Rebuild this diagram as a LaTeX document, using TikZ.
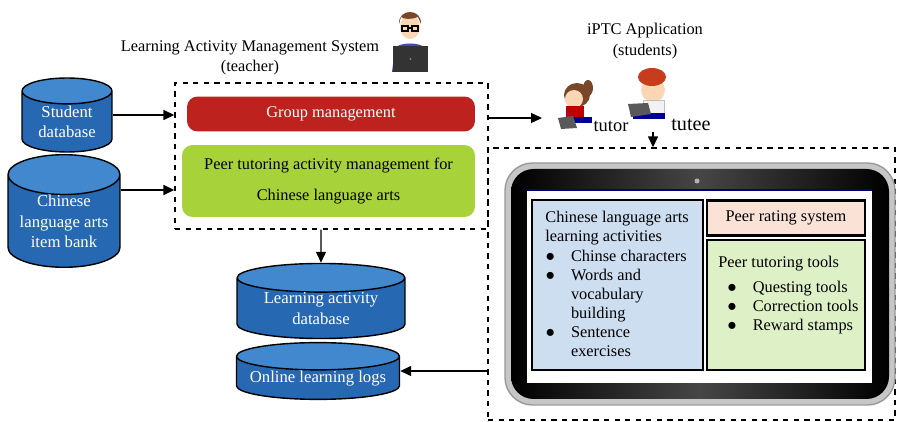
\documentclass[tikz,border=0pt]{standalone}
\usepackage{fontspec}
\setmainfont{Liberation Serif}
\usetikzlibrary{positioning, arrows.meta, shapes.geometric}
\definecolor{dbblue}{RGB}{38,104,178}
\definecolor{dbtop}{RGB}{66,136,206}
\definecolor{grpred}{RGB}{190,34,30}
\definecolor{ptgreen}{RGB}{168,210,58}
\definecolor{actblue}{RGB}{205,222,240}
\definecolor{ratepink}{RGB}{250,226,214}
\definecolor{toolgreen}{RGB}{222,240,198}
\definecolor{skin}{RGB}{250,214,180}
\definecolor{hairbrown}{RGB}{120,70,40}
\definecolor{hairred}{RGB}{200,60,30}

\begin{document}
\begin{tikzpicture}[x=0.02cm, y=-0.02cm,
  txt/.style={font=\fontsize{9.3}{11.5}\selectfont, align=center},
  db/.style={cylinder, shape border rotate=90, draw=black, thick, cylinder uses custom fill,
    cylinder body fill=dbblue, cylinder end fill=dbtop, text=white, align=center,
    font=\fontsize{9.5}{11.5}\selectfont, inner sep=0pt, anchor=shape center},
  dashbox/.style={draw, thick, dashed, inner sep=0pt},
  panel/.style={draw, very thick, inner sep=0pt},
  arr/.style={-{Triangle[length=2.2mm, width=2mm]}, thick}]
  \useasboundingbox (0,0) rectangle (897,422);

  % databases
  \node[db, minimum width=1.8cm, minimum height=1.48cm, aspect=0.45] (stud) at (67,115) {Student\\database};
  \node[db, minimum width=2.24cm, minimum height=2.04cm, aspect=0.45] (bank) at (64,211) {Chinese\\language arts\\item bank};
  \node[db, minimum width=3.36cm, minimum height=1.44cm, aspect=0.25] (actdb) at (321,301) {Learning activity\\database};
  \node[db, minimum width=3.26cm, minimum height=1.06cm, aspect=0.2] (logs) at (318,371) {Online learning logs};

  % teacher side
  \node[txt] (lamstitle) at (250,58) {Learning Activity Management System\\(teacher)};
  \node[dashbox, minimum width=6.26cm, minimum height=2.92cm] (lams) at (331.5,156) {};
  \node[fill=grpred, rounded corners=6pt, minimum width=5.76cm, minimum height=0.7cm, text=white, txt] (grp) at (331,114) {Group management};
  \node[fill=ptgreen, rounded corners=6pt, minimum width=5.86cm, minimum height=1.44cm, txt] (ptam) at (328.5,181)
    {Peer tutoring activity management for\\[6pt]Chinese language arts};

  % teacher icon
  \fill[blue!45!gray] (392,72) -- (395,48) .. controls (400,42) and (420,42) .. (425,48) -- (428,72) -- cycle;
  \fill[skin] (410,27) ellipse (10 and 12);
  \fill[hairbrown] (399,24) .. controls (398,8) and (422,8) .. (421,24) -- (418,17) .. controls (410,20) and (404,19) .. (401,17) -- cycle;
  \draw[thick] (402,26) rectangle (408,31) (412,26) rectangle (418,31) (408,28) -- (412,28);
  \fill[black!80] (393,46) rectangle (428,72);
  \fill[gray] (410.5,59) circle (1.2);

  % students side
  \node[txt] (apptitle) at (645,41) {iPTC Application\\(students)};
  \node[txt, font=\fontsize{10.5}{12}\selectfont] (tutor) at (611,126) {tutor};
  \node[txt, font=\fontsize{11.5}{12}\selectfont] (tutee) at (691,125) {tutee};
  \coordinate (kids) at (542,118);
  \coordinate (boy) at (653,132);

  % girl (tutor)
  \fill[hairbrown] (577,95) ellipse (13 and 12);
  \fill[hairbrown] (588,88) ellipse (5 and 8);
  \fill[skin] (574,99) ellipse (9 and 9);
  \fill[red!75!black] (566,106) rectangle (584,118);
  \fill[blue!60!black] (565,117) rectangle (592,123);
  \fill[gray!70!black] (558,118) -- (573,116) -- (577,128) -- (561,129) -- cycle;

  % boy (tutee)
  \fill[skin] (653,90) ellipse (12 and 12);
  \fill[hairred] (652,77) ellipse (14 and 9);
  \fill[gray!10] (643,100) rectangle (664,114);
  \draw[gray!50] (643,100) rectangle (664,114);
  \fill[blue!60!black] (633,113) rectangle (665,119);
  \fill[gray!70!black] (628,104) -- (648,103) -- (651,114) -- (631,117) -- cycle;

  % tablet box
  \node[dashbox, minimum width=8.14cm, minimum height=5.44cm] (iptc) at (691.5,284) {};
  \fill[gray!45] (505,163) [rounded corners=0.55cm] rectangle (895,405);
  \draw[gray!80, thick, rounded corners=0.55cm] (505,163) rectangle (895,405);
  \shade[left color=black, right color=black, middle color=gray!55!black, rounded corners=0.45cm] (511,169) rectangle (889,399);
  \fill[white] (527,190) rectangle (872,383);
  \draw[blue!50!black, thick] (527,190) -- (872,190);
  \fill[gray!60] (697,181) circle (2.5);

  % screen panels
  \node[panel, fill=actblue, minimum width=3.42cm, minimum height=3.4cm] (acts) at (617.5,285) {};
  \node[panel, fill=ratepink, minimum width=3.16cm, minimum height=0.7cm, txt] (rate) at (786,218) {Peer rating system};
  \node[panel, fill=toolgreen, minimum width=3.16cm, minimum height=2.6cm] (tools) at (786,305) {};
  \node[anchor=north west, inner sep=0pt, font=\fontsize{9.3}{10.9}\selectfont] (actslist) at (545,209)
    {\begin{tabular}{@{}l@{\hspace{9pt}}l@{}}
      \multicolumn{2}{@{}l}{Chinese language arts}\\
      \multicolumn{2}{@{}l}{learning activities}\\
      ● & Chinse characters\\
      ● & Words and\\
        & vocabulary\\
        & building\\
      ● & Sentence\\
        & exercises
    \end{tabular}};
  \node[anchor=north west, inner sep=0pt, font=\fontsize{9.3}{10.9}\selectfont] (toolslist) at (718,254)
    {\begin{tabular}{@{}l@{\hspace{9pt}}l@{}}
      \multicolumn{2}{@{}l}{Peer tutoring tools}\\[3pt]
      \hspace{5pt}● & Questing tools\\
      \hspace{5pt}● & Correction tools\\
      \hspace{5pt}● & Reward stamps
    \end{tabular}};

  % connectors
  \path ([yshift=0.42cm]bank.shape center) coordinate (bankmid);
  \draw[arr] (stud.shape center -| stud.east) -- (stud.shape center -| lams.west);
  \draw[arr] (bankmid -| bank.east) -- (bankmid -| lams.west);
  \draw[arr] (actdb |- lams.south) -- (actdb.north);
  \draw[arr] (iptc.west |- logs.shape center) -- (logs.shape center -| logs.east);
  \draw[arr] (lams.east |- kids) -- (kids);
  \draw[arr] (boy) -- (boy |- iptc.north);
\end{tikzpicture}
\end{document}
